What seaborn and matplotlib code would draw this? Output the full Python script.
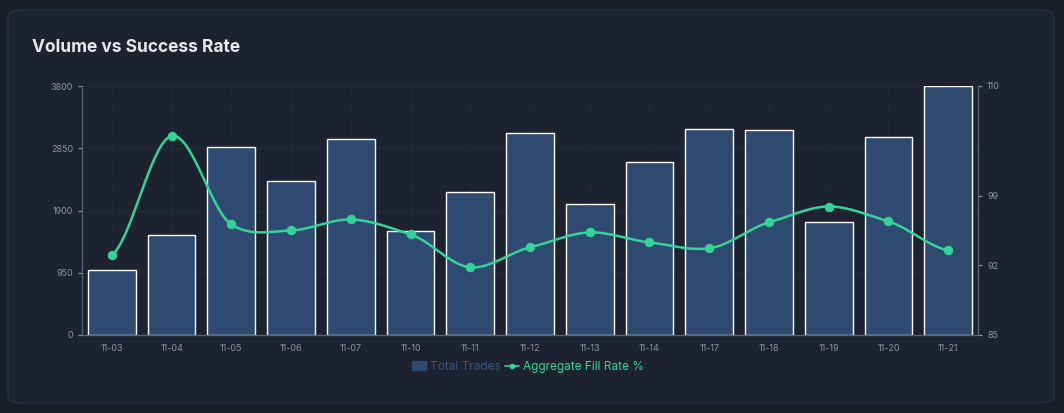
import numpy as np
import pandas as pd
import seaborn as sns
import matplotlib.pyplot as plt
from matplotlib.patches import FancyBboxPatch, Patch
from matplotlib.lines import Line2D

dates = ['11-03', '11-04', '11-05', '11-06', '11-07', '11-10', '11-11', '11-12',
         '11-13', '11-14', '11-17', '11-18', '11-19', '11-20', '11-21']
total_trades = [990, 1530, 2870, 2350, 2990, 1590, 2180, 3080,
                2000, 2640, 3140, 3130, 1725, 3020, 3800]
fill_rate = [93.0, 105.0, 96.1, 95.5, 96.6, 95.1, 91.8, 93.8,
             95.3, 94.3, 93.7, 96.3, 97.9, 96.4, 93.5]

bg = '#181d28'
card = '#1c2230'
bar_c = '#2e4a70'
line_c = '#34d399'
txt = '#8a93a6'

sns.set_theme(style='dark')
plt.rcParams['font.family'] = ['Inter', 'DejaVu Sans']

fig = plt.figure(figsize=(10.64, 4.13), dpi=100, facecolor=bg)
card_box = FancyBboxPatch((8 / 1064, 10 / 413), 1046 / 1064, 393 / 413,
                          boxstyle='round,pad=0,rounding_size=0.015',
                          transform=fig.transFigure, fc=card, ec='#2a3142', lw=1, zorder=-10)
fig.patches.append(card_box)
fig.text(32 / 1064, 1 - 48 / 413, 'Volume vs Success Rate', color='#e6e9ef',
         fontsize=12.5, fontweight='bold', va='center')

ax = fig.add_axes([82 / 1064, 1 - 335 / 413, 896 / 1064, 249 / 413])
ax.set_facecolor(card)
df = pd.DataFrame({'date': dates, 'trades': total_trades, 'fill': fill_rate})
sns.barplot(data=df, x='date', y='trades', color=bar_c, saturation=1, width=0.8, ax=ax)
ax.set_ylim(0, 3800)
ax.set_xlim(-0.5, len(dates) - 0.5)
ax.set_yticks([0, 950, 1900, 2850, 3800])
ax.set_xlabel('')
ax.set_ylabel('')

ax2 = ax.twinx()
ax2.patch.set_visible(False)
# smooth the curve between points (cubic Hermite) for display
x = np.arange(len(dates))
y = np.array(fill_rate)
xs, ys = [], []
for i in range(len(x) - 1):
    p0 = y[max(i - 1, 0)]; p1 = y[i]; p2 = y[i + 1]; p3 = y[min(i + 2, len(y) - 1)]
    t = np.linspace(0, 1, 20)
    m1 = (p2 - p0) / 2 * 0.8
    m2 = (p3 - p1) / 2 * 0.8
    h = (2*t**3 - 3*t**2 + 1)*p1 + (t**3 - 2*t**2 + t)*m1 + (-2*t**3 + 3*t**2)*p2 + (t**3 - t**2)*m2
    xs.extend(x[i] + t); ys.extend(h)
sns.lineplot(x=xs, y=ys, color=line_c, lw=1.8, ax=ax2, sort=False)
sns.scatterplot(x=x, y=y, color=line_c, s=40, edgecolor=line_c, zorder=5, ax=ax2)
ax2.set_ylim(85, 110)
ax2.set_yticks([85, 92, 99, 110])
ax2.set_ylabel('')

for a in (ax, ax2):
    a.tick_params(colors=txt, labelsize=6.5, length=3, width=0.8)
    for s in a.spines.values():
        s.set_visible(False)
ax.spines['left'].set_visible(True)
ax.spines['bottom'].set_visible(True)
ax2.spines['right'].set_visible(True)
for s in (ax.spines['left'], ax.spines['bottom'], ax2.spines['right']):
    s.set_color('#5a6375'); s.set_linewidth(0.9)
ax.set_axisbelow(True)
ax.grid(axis='x', color='#2a3242', lw=0.6, ls=(0, (2, 2)))
ax.grid(axis='y', color='#252c3b', lw=0.6)

handles = [Patch(color=bar_c, label='Total Trades'),
           Line2D([0], [0], color=line_c, marker='o', ms=3, lw=1.2, label='Aggregate Fill Rate %')]
leg = fig.legend(handles=handles, loc='center', bbox_to_anchor=(528 / 1064, 1 - 367 / 413),
                 ncol=2, frameon=False, fontsize=8.5, handlelength=1.2, handleheight=0.8,
                 columnspacing=0.4, handletextpad=0.3)
leg.get_texts()[0].set_color('#3a5578')
leg.get_texts()[1].set_color(line_c)

fig.savefig('out.png', dpi=100, facecolor=bg)
